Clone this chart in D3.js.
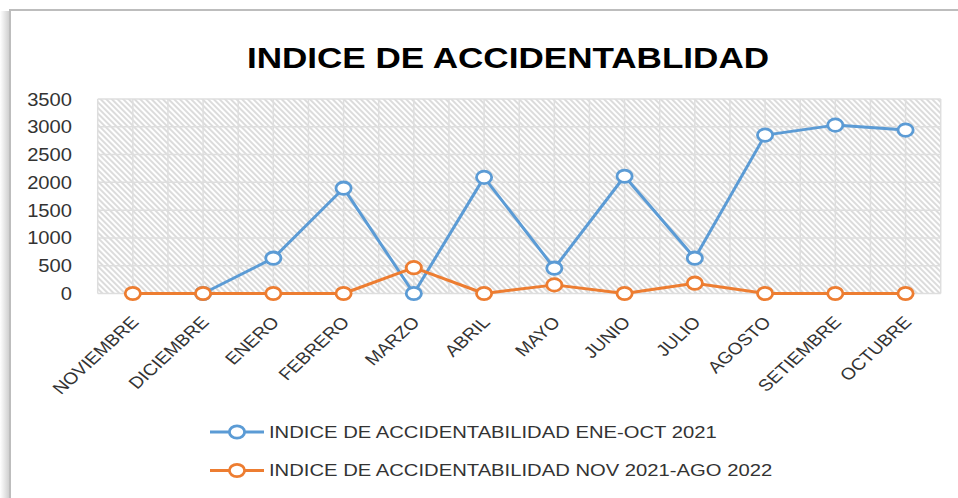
<!DOCTYPE html>
<html>
<head>
<meta charset="utf-8">
<script src="https://cdn.jsdelivr.net/npm/d3@7"></script>
<style>
  body { margin: 0; background: #fff; }
  text { font-family: "Liberation Sans", Arial, sans-serif; }
</style>
</head>
<body>
<div id="chart"></div>
<script>
let meses = ["NOVIEMBRE", "DICIEMBRE", "ENERO", "FEBRERO", "MARZO", "ABRIL",
  "MAYO", "JUNIO", "JULIO", "AGOSTO", "SETIEMBRE", "OCTUBRE"];
// ene-oct 2021 (no value for noviembre)
let serie2021 = [null, 0, 635, 1895, 0, 2090, 455, 2110, 635, 2850, 3030, 2940];
let serie2022 = [0, 0, 0, 0, 465, 0, 155, 0, 185, 0, 0, 0];
let yTicks = [0, 500, 1000, 1500, 2000, 2500, 3000, 3500];
let leyenda = ["INDICE DE ACCIDENTABILIDAD ENE-OCT 2021", "INDICE DE ACCIDENTABILIDAD NOV 2021-AGO 2022"];
let colores = ["#5B9BD5", "#ED7D31"];

let width = 958, height = 498;
let sx = 1.17; // picture is slightly wide, so text is stretched too

let svg = d3.select("#chart").append("svg")
    .attr("width", width)
    .attr("height", height);

let defs = svg.append("defs");
let grad = defs.append("linearGradient").attr("id", "sombra");
grad.append("stop").attr("offset", "0%").attr("stop-color", "#fff");
grad.append("stop").attr("offset", "100%").attr("stop-color", "#d0d0d0");

let pat = defs.append("pattern")
    .attr("id", "rayas")
    .attr("patternUnits", "userSpaceOnUse")
    .attr("width", 4).attr("height", 4)
    .attr("patternTransform", "rotate(-45)");
pat.append("rect").attr("width", 4).attr("height", 4).attr("fill", "#fff");
pat.append("line")
    .attr("x1", 1).attr("y1", 0).attr("x2", 1).attr("y2", 4)
    .attr("stroke", "#d3d3d3").attr("stroke-width", 1.6);

// frame
svg.append("rect").attr("x", 0).attr("y", 11).attr("width", 9).attr("height", height - 11)
    .attr("fill", "url(#sombra)");
svg.append("path")
    .attr("d", "M10," + height + "V10H" + width)
    .attr("fill", "none").attr("stroke", "#bdbdbd").attr("stroke-width", 2);

svg.append("text")
    .attr("transform", "translate(508,68) scale(" + sx + ",1)")
    .attr("text-anchor", "middle")
    .style("font-size", "30px").style("font-weight", "bold")
    .attr("fill", "#000")
    .text("INDICE DE ACCIDENTABLIDAD");

let pLeft = 97.7, pRight = 940.7, pTop = 99, pBottom = 293.5;

let x = d3.scaleBand().domain(meses).range([pLeft, pRight]);
let y = d3.scaleLinear().domain([0, 3500]).range([pBottom, pTop]);
let bw = x.bandwidth();
let cx = d => x(d) + bw / 2;

svg.append("rect")
    .attr("x", pLeft).attr("y", pTop)
    .attr("width", pRight - pLeft).attr("height", pBottom - pTop)
    .attr("fill", "url(#rayas)");

let vlines = [];
meses.forEach(m => { vlines.push(x(m)); vlines.push(cx(m)); });
vlines.push(pRight);

svg.append("g").selectAll("line").data(vlines).enter().append("line")
    .attr("x1", d => d).attr("x2", d => d)
    .attr("y1", pTop).attr("y2", pBottom)
    .attr("stroke", "#dedede").attr("stroke-width", 1.5);

svg.append("g").selectAll("line").data(yTicks).enter().append("line")
    .attr("x1", pLeft).attr("x2", pRight)
    .attr("y1", d => y(d)).attr("y2", d => y(d))
    .attr("stroke", "#dedede").attr("stroke-width", 1.5);

svg.append("g").selectAll("text").data(yTicks).enter().append("text")
    .attr("transform", d => "translate(72," + (y(d) + 6.5) + ") scale(1.12,1)")
    .attr("text-anchor", "end")
    .style("font-size", "18px")
    .attr("fill", "#333")
    .text(d => d);

svg.append("g").selectAll("text").data(meses).enter().append("text")
    .attr("transform", d => "translate(" + (cx(d) + 7) + ",323) scale(" + sx + ",1) rotate(-47)")
    .attr("text-anchor", "end")
    .style("font-size", "16.5px")
    .attr("fill", "#333")
    .text(d => d);

let linea = d3.line()
    .defined(d => d != null)
    .x((d, i) => cx(meses[i]))
    .y(d => y(d));

[serie2021, serie2022].forEach((serie, k) => {
  let g = svg.append("g");
  g.append("path")
      .datum(serie)
      .attr("d", linea)
      .attr("fill", "none")
      .attr("stroke", colores[k])
      .attr("stroke-width", 3)
      .attr("stroke-linejoin", "round");
  g.selectAll("ellipse")
      .data(serie.map((v, i) => ({ v: v, m: meses[i] })).filter(d => d.v != null))
      .enter().append("ellipse")
      .attr("cx", d => cx(d.m)).attr("cy", d => y(d.v))
      .attr("rx", 7.6).attr("ry", 6.2)
      .attr("fill", "#fff")
      .attr("stroke", colores[k])
      .attr("stroke-width", 2.8);
});

// legend
let leg = svg.append("g").selectAll("g").data(leyenda).enter().append("g")
    .attr("transform", (d, i) => "translate(0," + (432 + i * 38.5) + ")");
leg.append("line")
    .attr("x1", 210).attr("x2", 264)
    .attr("stroke", (d, i) => colores[i]).attr("stroke-width", 3);
leg.append("ellipse")
    .attr("cx", 237).attr("rx", 7.6).attr("ry", 6.2)
    .attr("fill", "#fff")
    .attr("stroke", (d, i) => colores[i]).attr("stroke-width", 2.8);
leg.append("text")
    .attr("transform", "translate(269,5.5) scale(" + sx + ",1)")
    .style("font-size", "17.3px")
    .attr("fill", "#333")
    .text(d => d);
</script>
</body>
</html>
